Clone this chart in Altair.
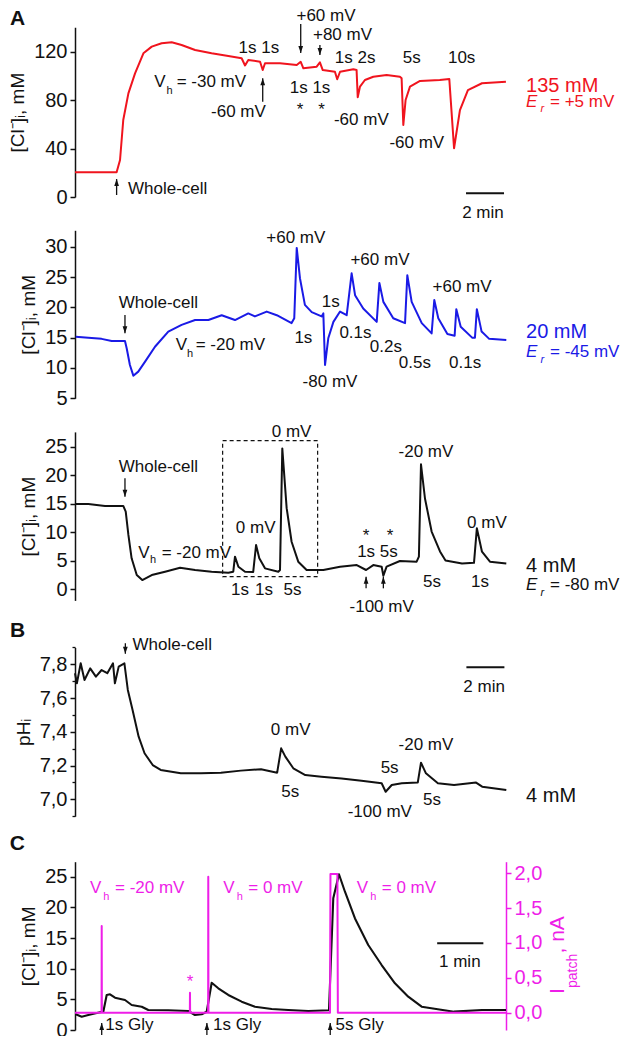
import altair as alt
import pandas as pd

FONT = "Liberation Sans"
RED = "#f0141e"
BLUE = "#1a1ae6"
MAG = "#ee1ee8"
BLACK = "#111111"

# ---------------- data (time in min) ----------------
a1_t = [0, 2.19, 2.37, 2.54, 2.81, 3.16, 3.6, 4.04, 4.56, 5.09, 5.61, 6.32, 7.19, 8.07, 8.77, 8.95,
        9.12, 9.74, 9.88, 10.0, 10.79, 11.67, 11.88, 12.02, 12.72, 12.89, 13.04, 13.68, 13.8, 13.95,
        14.65, 14.82, 14.88, 15.0, 15.26, 15.7, 16.4, 17.1, 17.19, 17.28, 17.4, 17.63, 18.16, 19.2,
        19.7, 19.95, 20.26, 20.68, 21.42, 22.68]
a1_v = [20.4, 20.4, 30.5, 63.5, 85.5, 102, 118.5, 124, 126.8, 127.6, 125.4, 121.2, 118.5, 116.3, 114.4, 108.5,
        113, 111.6, 104.7, 110.3, 110.3, 108.9, 111.5, 106.1, 107.5, 111, 104.7, 103.3, 97.1, 103.3,
        105.3, 104.7, 82.2, 91, 96.5, 99.2, 100.6, 99.2, 97.9, 59.4, 80, 91, 95.7, 96.5,
        97.3, 40.2, 71.7, 88.2, 93.8, 95.1]

a2_t = [0.04, 0.7, 1.4, 1.93, 2.63, 2.72, 2.89, 3.07, 3.33, 3.68, 4.21, 4.91, 5.61, 6.32, 7.02, 7.72,
        8.42, 9.12, 9.47, 10.09, 10.62, 11.4, 11.54, 11.67, 11.84, 12.1, 12.46, 12.98, 13.07, 13.16,
        13.33, 13.6, 13.95, 14.3, 14.56, 14.74, 15.17, 15.88, 16.02, 16.23, 16.75, 17.37, 17.49, 17.72,
        18.25, 18.77, 18.91, 19.12, 19.6, 19.98, 20.07, 20.3, 20.9, 21.05, 21.15, 21.4, 21.8, 22.7]
a2_v = [15.16, 15.0, 14.8, 14.45, 14.45, 13.25, 10.5, 8.73, 9.4, 11.0, 13.5, 16.0, 17.1, 17.9, 17.9, 18.7,
        17.9, 19.0, 18.5, 19.3, 18.7, 17.4, 18.2, 29.8, 24.8, 20.4, 19.2, 18.5, 19.0, 10.5,
        14.9, 17.6, 19.3, 18.7, 25.6, 22.0, 19.8, 17.6, 24.0, 20.9, 18.2, 17.4, 25.3, 20.9,
        17.4, 15.7, 21.2, 18.2, 15.6, 15.3, 19.7, 16.8, 15.0, 15.0, 19.7, 16.0, 14.8, 14.6]

a3_t = [0.04, 0.7, 1.58, 2.54, 2.67, 2.81, 2.98, 3.25, 3.54, 4.04, 4.74, 5.53, 6.32, 7.19, 8.07, 8.33,
        8.42, 8.6, 8.95, 9.38, 9.53, 9.7, 10.0, 10.7, 10.79, 10.91, 11.14, 11.4, 11.75, 12.19, 13.07,
        13.95, 14.83, 15.32, 15.7, 16.14, 16.23, 16.4, 17.1, 17.98, 18.1, 18.21, 18.42, 18.77, 19.21,
        19.5, 20.37, 21.0, 21.15, 21.42, 21.84, 22.7]
a3_v = [14.93, 14.93, 14.6, 14.6, 13.6, 9.5, 5.4, 2.46, 1.58, 2.46, 3.04, 3.74, 3.34, 3.04, 2.87, 3.04,
        5.68, 3.92, 3.04, 3.0, 7.73, 5.39, 3.63, 3.04, 3.34, 24.7, 14.2, 8.3, 4.8, 3.34, 3.34,
        3.92, 4.2, 3.34, 4.2, 3.92, 2.34, 3.92, 4.92, 4.8, 5.68, 21.9, 15.9, 10.1, 6.6,
        5.0, 4.5, 4.6, 10.66, 6.55, 4.8, 4.5]

b_t = [0.0, 0.1, 0.3, 0.5, 0.8, 1.1, 1.4, 1.7, 2.0, 2.1, 2.3, 2.6, 2.78, 3.03, 3.35, 3.66, 4.09, 4.51,
       5.57, 6.63, 7.68, 8.73, 9.79, 10.64, 10.85, 11.07, 11.49, 12.12, 12.97, 14.03, 15.08, 16.14,
       16.35, 16.67, 17.2, 18.04, 18.21, 18.47, 19.1, 19.95, 21.11, 21.43, 22.7]
b_v = [7.747, 7.687, 7.806, 7.707, 7.776, 7.727, 7.766, 7.747, 7.806, 7.687, 7.786, 7.806, 7.648, 7.529,
       7.371, 7.273, 7.203, 7.174, 7.154, 7.154, 7.158, 7.170, 7.178, 7.158, 7.302, 7.253, 7.184, 7.144,
       7.134, 7.124, 7.110, 7.095, 7.045, 7.085, 7.095, 7.099, 7.217, 7.154, 7.095, 7.085, 7.099, 7.075,
       7.055]

c_t = [0.015, 0.145, 0.288, 0.541, 0.613, 0.686, 0.758, 0.866, 1.082, 1.227, 1.444, 1.587, 2.019, 2.452,
       2.597, 2.742, 2.851, 2.959, 3.102, 3.318, 3.608, 3.896, 4.258, 4.617, 5.05, 5.498, 5.591, 5.714,
       5.844, 6.061, 6.348, 6.638, 6.926, 7.214, 7.504, 8.203, 8.81, 9.33]
c_v = [2.56, 2.17, 2.45, 2.89, 2.98, 5.71, 5.82, 5.27, 4.89, 4.08, 3.8, 3.26, 3.21, 3.1,
       2.45, 2.56, 2.98, 7.71, 6.8, 5.71, 4.62, 3.8, 3.42, 3.26, 3.1, 3.21, 21.5, 25.4,
       22.55, 18.2, 13.86, 10.6, 7.61, 5.43, 3.8, 2.99, 3.26, 3.26]

ip_t = [0.0, 0.575, 0.578, 0.582, 2.486, 2.489, 2.492, 2.882, 2.885, 2.889, 5.52, 5.53, 5.68, 5.69, 9.33]
ip_v = [0.0, 0.0, 1.244, 0.0, 0.0, 0.287, 0.0, 0.0, 1.95, 0.0, 0.0, 1.99, 1.99, 0.0, 0.0]

b_minor = [6.9, 7.1, 7.3, 7.5, 7.7, 7.9]

# ---------------- geometry: scale domains and pixel ranges ----------------
W, H = 547, 1028
XAB = ([0, 22.7], [0, 431.3])
XC = ([0, 9.33], [0, 431.0])
YA1 = ([0, 140], [189, 19.25])
YA2 = ([5, 32.7], [390.3, 222.3])
YA3 = ([-2, 27.6], [592.4, 423.9])
YB = ([6.9, 7.9], [808.2, 639.4])
YCL = ([0, 27.45], [1022, 853.7])
YCR = ([-0.248, 2.166], [1022, 853.7])

DOWN = "M0,0L-0.75,-2.2L0.75,-2.2Z"
UP = "M0,0L-0.75,2.2L0.75,2.2Z"
COMMA = "replace(format(datum.value, '.1f'), '.', ',')"
LW = 2.0


def S(dom, rng):
    return alt.Scale(domain=dom, range=rng, nice=False, zero=False)


def X(xs, f='t'):
    return alt.X(f + ':Q', scale=S(*xs), axis=None)


def Y(ys, f='v', axis=None):
    return alt.Y(f + ':Q', scale=S(*ys), axis=axis)


def yax(vals, color=BLACK, orient='left', title='', expr=None, offset=0):
    kw = dict(orient=orient, values=vals, title=title, grid=False, domainColor=color,
              tickColor=color, labelColor=color, titleColor=color, labelFont=FONT, titleFont=FONT,
              labelFontSize=20, titleFontSize=19, titleFontWeight='normal', domainWidth=1.5,
              tickWidth=1.5, tickSize=5, labelPadding=3, titlePadding=6, labelOverlap=False)
    if expr:
        kw['labelExpr'] = expr
    if offset:
        kw['offset'] = offset
    return alt.Axis(**kw)


def line(t, v, color, xs, ys, axis=None, width=LW):
    df = pd.DataFrame({'t': t, 'v': v})
    return alt.Chart(df).mark_line(color=color, strokeWidth=width, strokeJoin='round').encode(
        x=X(xs), y=Y(ys, axis=axis))


def minor_ticks(vals, xs, ys):
    df = pd.DataFrame({'t': [xs[0][0]], 'v': [ys[0][0]]})
    ax = alt.Axis(orient='left', values=vals, title='', labels=False, domain=False, grid=False,
                  tickColor=BLACK, tickWidth=1.3, tickSize=3)
    return alt.Chart(df).mark_point(opacity=0).encode(x=X(xs), y=Y(ys, axis=ax))


def text(labels, ts, vs, xs, ys, size=17, align='center', color=BLACK, italic=False, bold=False,
         angle=0, baseline='alphabetic'):
    df = pd.DataFrame({'t': ts, 'v': vs, 'label': labels})
    props = dict(font=FONT, fontSize=size, align=align, baseline=baseline, color=color)
    if italic:
        props['fontStyle'] = 'italic'
    if bold:
        props['fontWeight'] = 'bold'
    if angle:
        props['angle'] = angle
    return alt.Chart(df).mark_text(**props).encode(x=X(xs), y=Y(ys), text='label:N')


def arrows(ts, v1, v2, xs, ys, up, color=BLACK):
    df = pd.DataFrame({'t': ts, 'v': v1, 'v2': v2})
    r = alt.Chart(df).mark_rule(color=color, strokeWidth=1.3).encode(x=X(xs), y=Y(ys), y2='v2:Q')
    h = alt.Chart(df).mark_point(shape=UP if up else DOWN, filled=True, size=40, color=color,
                                 opacity=1, strokeWidth=0).encode(x=X(xs), y=Y(ys, 'v2'))
    return [r, h]


def hbar(t1, t2, v, xs, ys):
    df = pd.DataFrame({'t': [t1], 't2': [t2], 'v': [v]})
    return alt.Chart(df).mark_rule(color=BLACK, strokeWidth=2).encode(x=X(xs), x2='t2:Q', y=Y(ys))


CL = "[Cl\u207b]\u1d62, mM"
layers = []

# ---------------- A1 (135 mM, red) ----------------
layers.append(line(a1_t, a1_v, RED, XAB, YA1, yax([0, 40, 80, 120], title=CL)))
layers.append(text(["A"], [-3.42], [141.8], XAB, YA1, size=21, align='left', bold=True))
layers.append(text(["+60 mV", "+80 mV", "1s 1s", "1s 2s", "5s", "10s", "-60 mV", "1s 1s",
                    "-60 mV", "-60 mV", "2 min", "*", "*"],
                   [13.21, 14.08, 9.68, 14.74, 17.72, 20.35, 8.6, 12.37, 15.07, 17.99, 21.47, 11.84, 12.98],
                   [145.1, 129.5, 118.8, 110.3, 110.3, 110.3, 66.2, 85.5, 59.4, 40.2, -17.3, 67.6, 67.6],
                   XAB, YA1))
layers.append(text(["V", "= -30 mV", "Whole-cell"], [4.17, 5.35, 2.79], [90.7, 90.7, 2.47],
                   XAB, YA1, align='left'))
layers.append(text(["h"], [4.82], [84.9], XAB, YA1, size=11, align='left'))
layers.append(text(["135 mM"], [23.74], [86.8], XAB, YA1, size=20, align='left', color=RED))
layers.append(text(["E"], [23.74], [74.5], XAB, YA1, align='left', color=RED, italic=True))
layers.append(text(["r"], [24.5], [70.1], XAB, YA1, size=11, align='left', color=RED, italic=True))
layers.append(text(["= +5 mV"], [25.0], [74.5], XAB, YA1, align='left', color=RED))
layers += arrows([11.88, 12.89], [142.7, 125.4], [118.8, 117.1], XAB, YA1, up=False)
layers += arrows([9.88, 2.19], [78.6, 1.65], [97.9, 14.8], XAB, YA1, up=True)
layers.append(hbar(20.58, 22.58, 3.05, XAB, YA1))

# ---------------- A2 (20 mM, blue) ----------------
layers.append(line(a2_t, a2_v, BLUE, XAB, YA2, yax([5, 10, 15, 20, 25, 30], title=CL)))
layers.append(text(["+60 mV", "+60 mV", "+60 mV", "1s", "1s", "-80 mV", "0.1s", "0.2s", "0.5s",
                    "0.1s", "Whole-cell"],
                   [11.62, 16.05, 20.37, 13.46, 12.02, 13.42, 14.76, 16.36, 17.89, 20.53, 4.39],
                   [30.56, 26.98, 22.58, 20.1, 14.07, 6.91, 14.89, 12.68, 9.95, 9.95, 19.84],
                   XAB, YA2))
layers.append(text(["V", "= -20 mV"], [5.3, 6.35], [12.97, 12.97], XAB, YA2, align='left'))
layers.append(text(["h"], [5.9], [11.86], XAB, YA2, size=11, align='left'))
layers.append(text(["20 mM"], [23.74], [14.89], XAB, YA2, size=20, align='left', color=BLUE))
layers.append(text(["E"], [23.74], [11.86], XAB, YA2, align='left', color=BLUE, italic=True))
layers.append(text(["r"], [24.5], [10.82], XAB, YA2, size=11, align='left', color=BLUE, italic=True))
layers.append(text(["= -45 mV"], [25.0], [11.86], XAB, YA2, align='left', color=BLUE))
layers += arrows([2.63], [18.74], [15.72], XAB, YA2, up=False)

# ---------------- A3 (4 mM, black) ----------------
layers.append(line(a3_t, a3_v, BLACK, XAB, YA3, yax([0, 5, 10, 15, 20, 25], title=CL)))
rect_df = pd.DataFrame({'t': [7.77], 't2': [12.77], 'v': [2.16], 'v2': [26.05]})
layers.append(alt.Chart(rect_df).mark_rect(fillOpacity=0, stroke=BLACK, strokeWidth=1.2,
                                           strokeDash=[4, 3]).encode(
    x=X(XAB), x2='t2:Q', y=Y(YA3), y2='v2:Q'))
layers.append(text(["Whole-cell", "0 mV", "0 mV", "1s", "1s", "5s", "*", "*", "1s 5s", "-100 mV",
                    "-20 mV", "5s", "0 mV", "1s"],
                   [4.39, 9.51, 11.4, 8.68, 9.95, 11.45, 15.32, 16.58, 15.92, 16.14, 18.47, 18.79,
                    21.68, 21.32],
                   [20.6, 9.79, 26.76, -1.05, -1.05, -1.05, 8.49, 8.49, 5.67, -4.04, 23.24, 0.4,
                    10.66, 0.4],
                   XAB, YA3))
layers.append(text(["V", "= -20 mV"], [3.33, 4.56], [5.39, 5.39], XAB, YA3, align='left'))
layers.append(text(["h"], [3.95], [4.6], XAB, YA3, size=11, align='left'))
layers.append(text(["4 mM"], [23.74], [3.04], XAB, YA3, size=20, align='left'))
layers.append(text(["E"], [23.74], [-0.18], XAB, YA3, align='left', italic=True))
layers.append(text(["r"], [24.5], [-1.23], XAB, YA3, size=11, align='left', italic=True))
layers.append(text(["= -80 mV"], [25.0], [-0.18], XAB, YA3, align='left'))
layers += arrows([2.63], [19.45], [16.2], XAB, YA3, up=False)
layers += arrows([15.32, 16.23], [0.12, 0.12], [2.16, 2.16], XAB, YA3, up=True)

# ---------------- B (pHi) ----------------
layers.append(line(b_t, b_v, BLACK, XAB, YB,
                   yax([7.0, 7.2, 7.4, 7.6, 7.8], title="pH\u1d62", expr=COMMA)))
layers.append(minor_ticks(b_minor, XAB, YB))
layers.append(text(["B"], [-3.42], [7.964], XAB, YB, size=21, align='left', bold=True))
layers.append(text(["Whole-cell"], [3.03], [7.885], XAB, YB, align='left'))
layers.append(text(["2 min", "0 mV", "5s", "5s", "-100 mV", "-20 mV", "5s"],
                   [21.53, 11.35, 11.33, 16.56, 16.04, 18.47, 18.79],
                   [7.638, 7.381, 7.015, 7.154, 6.897, 7.292, 6.966], XAB, YB))
layers.append(text(["4 mM"], [23.74], [6.986], XAB, YB, size=20, align='left'))
layers += arrows([2.65], [7.925], [7.862], XAB, YB, up=False)
layers.append(hbar(20.6, 22.6, 7.782, XAB, YB))

# ---------------- C (Cl and patch current) ----------------
layers.append(line(c_t, c_v, BLACK, XC, YCL, yax([0, 5, 10, 15, 20, 25], title=CL), 2.1))
layers.append(line(ip_t, ip_v, MAG, XC, YCR,
                   yax([0, 0.5, 1.0, 1.5, 2.0], color=MAG, orient='right', title='', expr=COMMA,
                       offset=-116), 2.0))
layers.append(text(["C"], [-1.41], [29.35], XC, YCL, size=21, align='left', bold=True))
layers.append(text(["V", "= -20 mV", "V", "= 0 mV", "V", "= 0 mV"],
                   [0.325, 0.866, 3.21, 3.75, 6.1, 6.64], [22.29] * 6, XC, YCL, align='left', color=MAG))
layers.append(text(["h", "h", "h"], [0.613, 3.5, 6.39], [21.2] * 3, XC, YCL, size=11, align='left',
                   color=MAG))
layers.append(text(["*"], [2.489], [7.06], XC, YCL, color=MAG))
layers.append(text(["1s Gly", "1s Gly", "5s Gly"], [0.656, 2.987, 5.64], [0.0] * 3, XC, YCL,
                   align='left'))
layers.append(text(["1 min"], [8.33], [10.27], XC, YCL))
layers.append(hbar(7.84, 8.84, 14.14, XC, YCL))
layers += arrows([0.578, 2.855, 5.525], [-0.82] * 3, [1.14] * 3, XC, YCL, up=True)
# right axis title I_patch, nA (rotated, reading upwards)
layers.append(text(["I", ", nA"], [10.45, 10.45], [0.268, 0.849], XC, YCR, size=21, align='left',
                   color=MAG, angle=270, baseline='middle'))
layers.append(text(["patch"], [10.79], [0.354], XC, YCR, size=14, align='left', color=MAG,
                   angle=270, baseline='middle'))

chart = alt.layer(*layers).resolve_scale(x='independent', y='independent').resolve_axis(
    x='independent', y='independent').properties(
    width=W, height=H, autosize=alt.AutoSizeParams(type='none'),
    padding={'left': 67, 'top': 0, 'right': 0, 'bottom': 0}).configure_view(strokeWidth=0)

chart.save("out.html", embed_options={"renderer": "svg", "actions": False})
